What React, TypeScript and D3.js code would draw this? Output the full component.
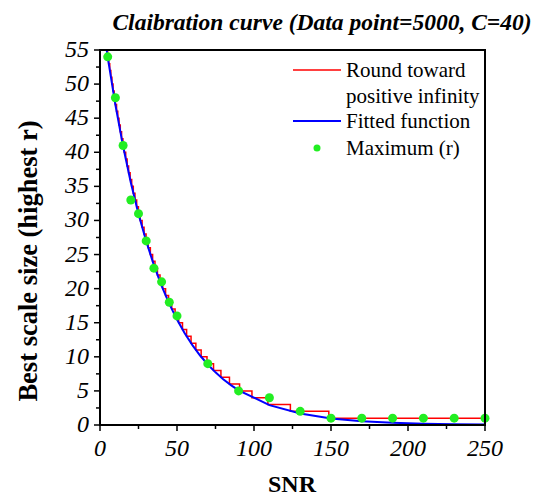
import React from "react";
import * as d3 from "d3";

// Maximum (r) points
const snrPoints = [5, 10, 15, 20, 25, 30, 35, 40, 45, 50, 70, 90, 110, 130, 150, 170, 190, 210, 230, 250];
const maxR = [54, 48, 41, 33, 31, 27, 23, 21, 18, 16, 9, 5, 4, 2, 1, 1, 1, 1, 1, 1];

// Fitted function (sampled)
const fitX = [0, 5, 10, 15, 20, 25, 30, 35, 40, 45, 50, 55, 60, 65, 70, 75, 80, 85, 90, 110, 130, 150, 170, 190, 210, 230, 250];
const fitY = [62, 53.96, 46.96, 40.87, 35.57, 30.96, 26.95, 23.45, 20.41, 17.76, 15.46, 13.46, 11.71, 10.19, 8.87, 7.72, 6.72, 5.85, 5.09, 2.92, 1.68, 0.96, 0.55, 0.32, 0.18, 0.1, 0.06];

// Round toward positive infinity (step line: x where each level begins)
const roundX = [4.31, 4.97, 5.64, 6.33, 7.03, 7.74, 8.47, 9.21, 9.97, 10.75, 11.54, 12.35, 13.17, 14.02, 14.89, 15.78, 16.69, 17.62, 18.58, 19.57, 20.58, 21.63, 22.7, 23.81, 24.95, 26.13, 27.35, 28.62, 29.93, 31.29, 32.7, 34.17, 35.7, 37.3, 38.98, 40.73, 42.58, 44.52, 46.58, 48.76, 51.09, 53.57, 56.24, 59.12, 62.25, 65.68, 69.48, 73.72, 78.52, 84.07, 90.63, 98.67, 109.02, 123.62, 148.58, 250];
const roundY = [55, 54, 53, 52, 51, 50, 49, 48, 47, 46, 45, 44, 43, 42, 41, 40, 39, 38, 37, 36, 35, 34, 33, 32, 31, 30, 29, 28, 27, 26, 25, 24, 23, 22, 21, 20, 19, 18, 17, 16, 15, 14, 13, 12, 11, 10, 9, 8, 7, 6, 5, 4, 3, 2, 1, 1];

const xTicks = [0, 50, 100, 150, 200, 250];
const xMinor = [25, 75, 125, 175, 225];
const yTicks = [0, 5, 10, 15, 20, 25, 30, 35, 40, 45, 50, 55];
const yMinor = [2.5, 7.5, 12.5, 17.5, 22.5, 27.5, 32.5, 37.5, 42.5, 47.5, 52.5];

const legendItems = ["Round toward", "positive infinity", "Fitted function", "Maximum (r)"];

const SERIF = "'Liberation Serif', 'Times New Roman', serif";

export default function App() {
  const left = 100, right = 485, top = 50, bottom = 425;
  const x = d3.scaleLinear().domain([0, 250]).range([left, right]);
  const y = d3.scaleLinear().domain([0, 55]).range([bottom, top]);

  const fitLine = d3.line<number>().x((d, i) => x(fitX[i])).y((d) => y(d))(fitY) || "";
  const roundLine =
    d3
      .line<number>()
      .x((d, i) => x(roundX[i]))
      .y((d) => y(d))
      .curve(d3.curveStepAfter)(roundY) || "";

  return (
    <svg
      width={537}
      height={500}
      style={{ position: "absolute", left: 0, top: 0, background: "#fff" }}
      fontFamily={SERIF}
    >
      <defs>
        <clipPath id="plotClip">
          <rect x={left} y={top} width={right - left} height={bottom - top} />
        </clipPath>
      </defs>
      <rect width={537} height={500} fill="#fff" />

      {/* title */}
      <text x={322} y={30} textAnchor="middle" fontSize={23.5} fontWeight="bold" fontStyle="italic">
        Claibration curve (Data point=5000, C=40)
      </text>

      {/* data */}
      <g clipPath="url(#plotClip)">
        <path d={roundLine} fill="none" stroke="#ff0000" strokeWidth={1.5} />
        <path d={fitLine} fill="none" stroke="#0000ff" strokeWidth={2} />
      </g>
      {maxR.map((v, i) => (
        <circle key={i} cx={x(snrPoints[i])} cy={y(v)} r={4.5} fill="#22ee22" />
      ))}

      {/* frame */}
      <rect x={left} y={top} width={right - left} height={bottom - top} fill="none" stroke="#000" strokeWidth={2} />

      {/* x ticks */}
      {xTicks.map((t) => (
        <g key={"xt" + t}>
          <line x1={x(t)} x2={x(t)} y1={bottom} y2={bottom + 6} stroke="#000" strokeWidth={1.5} />
          <text x={x(t)} y={456} textAnchor="middle" fontSize={24} fontStyle="italic">
            {t}
          </text>
        </g>
      ))}
      {xMinor.map((t) => (
        <line key={"xm" + t} x1={x(t)} x2={x(t)} y1={bottom} y2={bottom + 4} stroke="#000" strokeWidth={1.5} />
      ))}

      {/* y ticks */}
      {yTicks.map((t) => (
        <g key={"yt" + t}>
          <line x1={left - 6} x2={left} y1={y(t)} y2={y(t)} stroke="#000" strokeWidth={1.5} />
          <text x={89} y={y(t) + 7} textAnchor="end" fontSize={24} fontStyle="italic">
            {t}
          </text>
        </g>
      ))}
      {yMinor.map((t) => (
        <line key={"ym" + t} x1={left - 4} x2={left} y1={y(t)} y2={y(t)} stroke="#000" strokeWidth={1.5} />
      ))}

      {/* axis labels */}
      <text x={292} y={492} textAnchor="middle" fontSize={24} fontWeight="bold">
        SNR
      </text>
      <text
        transform={`translate(37, 261) rotate(-90)`}
        textAnchor="middle"
        fontSize={26.5}
        fontWeight="bold"
      >
        Best scale size (highest r)
      </text>

      {/* legend */}
      <line x1={293} x2={341} y1={70} y2={70} stroke="#ff0000" strokeWidth={1.5} />
      <text x={346} y={77} fontSize={21}>{legendItems[0]}</text>
      <text x={346} y={103} fontSize={21}>{legendItems[1]}</text>
      <line x1={293} x2={341} y1={121} y2={121} stroke="#0000ff" strokeWidth={2} />
      <text x={346} y={128} fontSize={21}>{legendItems[2]}</text>
      <circle cx={317} cy={148} r={3.5} fill="#22ee22" />
      <text x={346} y={155} fontSize={21}>{legendItems[3]}</text>
    </svg>
  );
}
